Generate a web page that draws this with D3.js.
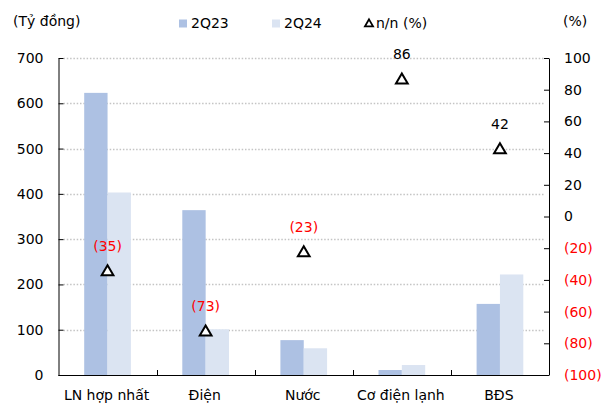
<!DOCTYPE html>
<html>
<head>
<meta charset="utf-8">
<script src="https://cdn.jsdelivr.net/npm/d3@7"></script>
<style>
  html, body { margin: 0; padding: 0; background: #fff; }
  svg { display: block; font-family: "DejaVu Sans", sans-serif; }
</style>
</head>
<body>
<svg id="chart" width="611" height="405"></svg>
<script>
// Lợi nhuận theo mảng, 2Q23 so với 2Q24 (tỷ đồng) và tăng trưởng n/n (%)
const categories = ["LN hợp nhất", "Điện", "Nước", "Cơ điện lạnh", "BĐS"];
const series2Q23 = [623, 364, 77, 11, 157];
const series2Q24 = [403, 101, 59, 22, 222];
const yoyPct = [-35, -73, -23, 86, 42];
const leftTicks = [0, 100, 200, 300, 400, 500, 600, 700];
const rightTicks = [-100, -80, -60, -40, -20, 0, 20, 40, 60, 80, 100];

const colors = { q23: "#adc1e3", q24: "#dbe4f2", red: "#ff0000" };

const svg = d3.select("#chart");
const m = { left: 58.5, right: 549, top: 58, bottom: 375 };

const x = d3.scaleBand().domain(categories).range([m.left, m.right]).padding(0);
const yL = d3.scaleLinear().domain([0, 700]).range([m.bottom, m.top]);
const yR = d3.scaleLinear().domain([-100, 100]).range([m.bottom, m.top]);
const barW = x.bandwidth() * 0.238;
const cx = c => x(c) + x.bandwidth() / 2;

const fmtPct = v => v < 0 ? `(${Math.abs(v)})` : `${v}`;

// dotted gridlines at left-axis ticks
svg.append("g").selectAll("line")
  .data(leftTicks.filter(t => t > 0))
  .join("line")
  .attr("x1", m.left + 5).attr("x2", m.right - 5)
  .attr("y1", d => Math.round(yL(d)) + 0.5).attr("y2", d => Math.round(yL(d)) + 0.5)
  .attr("stroke", "#c4c4c4").attr("stroke-width", 1.3).attr("stroke-dasharray", "1.5,1.8");

// bars
const bars = svg.append("g");
bars.selectAll("rect.q23").data(categories).join("rect")
  .attr("x", c => cx(c) - barW).attr("width", barW)
  .attr("y", (c, i) => yL(series2Q23[i]))
  .attr("height", (c, i) => yL(0) - yL(series2Q23[i]))
  .attr("fill", colors.q23);
bars.selectAll("rect.q24").data(categories).join("rect")
  .attr("x", c => cx(c)).attr("width", barW)
  .attr("y", (c, i) => yL(series2Q24[i]))
  .attr("height", (c, i) => yL(0) - yL(series2Q24[i]))
  .attr("fill", colors.q24);

// left axis
const axL = svg.append("g").attr("transform", `translate(${m.left},0)`)
  .call(d3.axisLeft(yL).tickValues(leftTicks).tickSize(-5).tickPadding(15).tickSizeOuter(0));
axL.select(".domain").attr("stroke", "#000");
axL.selectAll(".tick line").attr("stroke", "#000");
axL.selectAll(".tick text").attr("font-size", 14).attr("fill", "#000").attr("font-family", "DejaVu Sans");

// right axis
const axR = svg.append("g").attr("transform", `translate(${m.right},0)`)
  .call(d3.axisRight(yR).tickValues(rightTicks).tickSize(-5).tickPadding(15).tickSizeOuter(0).tickFormat(fmtPct));
axR.select(".domain").attr("stroke", "#000");
axR.selectAll(".tick line").attr("stroke", "#000");
axR.selectAll(".tick text").attr("font-size", 14).attr("font-family", "DejaVu Sans")
  .attr("fill", d => d < 0 ? colors.red : "#000");

// bottom axis: baseline, separators between categories, labels
const axB = svg.append("g");
axB.append("line").attr("x1", m.left).attr("x2", m.right)
  .attr("y1", m.bottom + 0.5).attr("y2", m.bottom + 0.5).attr("stroke", "#000");
axB.selectAll("line.sep").data(categories.slice(1)).join("line")
  .attr("x1", c => Math.round(x(c)) + 0.5).attr("x2", c => Math.round(x(c)) + 0.5)
  .attr("y1", m.bottom).attr("y2", m.bottom - 5).attr("stroke", "#000");
axB.selectAll("text").data(categories).join("text")
  .attr("x", c => cx(c) - 1).attr("y", 400)
  .attr("text-anchor", "middle").attr("font-size", 14).text(c => c);

// growth markers and labels
const tri = d3.symbol().type(d3.symbolTriangle).size(60);
const pts = svg.append("g");
pts.selectAll("path").data(categories).join("path")
  .attr("transform", (c, i) => `translate(${cx(c)},${yR(yoyPct[i])})`)
  .attr("d", tri).attr("fill", "#fff").attr("stroke", "#000").attr("stroke-width", 2);
pts.selectAll("text").data(categories).join("text")
  .attr("x", cx).attr("y", (c, i) => yR(yoyPct[i]) - 21)
  .attr("text-anchor", "middle").attr("font-size", 14)
  .attr("fill", (c, i) => yoyPct[i] < 0 ? colors.red : "#000")
  .text((c, i) => fmtPct(yoyPct[i]));

// axis titles
svg.append("text").attr("x", 13).attr("y", 26).attr("font-size", 14).text("(Tỷ đồng)");
svg.append("text").attr("x", 563).attr("y", 26).attr("font-size", 14).text("(%)");

// legend
const lg = svg.append("g");
lg.append("rect").attr("x", 179).attr("y", 19.5).attr("width", 8).attr("height", 8).attr("fill", colors.q23);
lg.append("text").attr("x", 191).attr("y", 28).attr("font-size", 14).text("2Q23");
lg.append("rect").attr("x", 272).attr("y", 19.5).attr("width", 8).attr("height", 8).attr("fill", colors.q24);
lg.append("text").attr("x", 284).attr("y", 28).attr("font-size", 14).text("2Q24");
lg.append("path").attr("transform", "translate(369,24)")
  .attr("d", d3.symbol().type(d3.symbolTriangle).size(28))
  .attr("fill", "#fff").attr("stroke", "#000").attr("stroke-width", 1.8);
lg.append("text").attr("x", 376).attr("y", 28).attr("font-size", 14).text("n/n (%)");
</script>
</body>
</html>
